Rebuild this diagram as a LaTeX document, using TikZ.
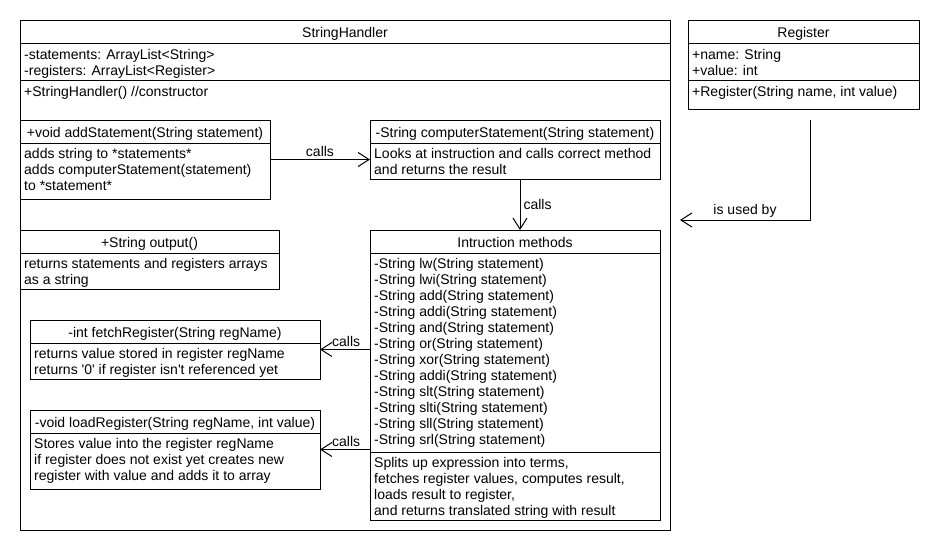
\documentclass[tikz,border=0pt]{standalone}
\usepackage{fontspec}
\setmainfont{Liberation Sans}[Ligatures=TeXOff]
\usetikzlibrary{arrows.meta}
\begin{document}
\begin{tikzpicture}[x=1pt,y=-1pt,
 every node/.style={font=\fontsize{14}{16}\selectfont, text=black},
 clsbox/.style={draw=black, line width=1pt, anchor=north west, inner sep=0pt, outer sep=0pt},
 clstitle/.style={anchor=base, inner sep=0pt},
 clsbody/.style={anchor=north west, inner sep=0pt, align=left},
 clsline/.style={anchor=base west, inner sep=0pt},
 clssep/.style={draw=black, line width=1pt},
 callarrow/.style={draw=black, line width=1pt, -{Straight Barb[length=11pt,width=14pt]}},
 calllbl/.style={inner sep=2pt}
]
\fill[white] (0,0) rectangle (940,550);
\useasboundingbox (0,0) rectangle (940,550);

% StringHandler
\node[clsbox, minimum width=650pt, minimum height=510pt] (sh) at (20,20) {};
\draw[clssep] (20,43) -- (670,43);
\draw[clssep] (20,80) -- (670,80);
\node[clstitle] (shT) at (345,37) {StringHandler};
\node[clsbody] (shA) at (24,47.8) {\strut -statements: ArrayList<String>\\-registers: ArrayList<Register>};
\node[clsline] (shM) at (24,96) {+StringHandler() //constructor};

% Register
\node[clsbox, minimum width=231pt, minimum height=89pt] (reg) at (688,20) {};
\draw[clssep] (688,43) -- (919,43);
\draw[clssep] (688,80) -- (919,80);
\node[clstitle] (regT) at (803.5,37) {Register};
\node[clsbody] (regA) at (692,47.8) {\strut +name: String\\+value: int};
\node[clsline] (regM) at (692,96) {+Register(String name, int value)};

% addStatement
\node[clsbox, minimum width=250pt, minimum height=79pt] (add) at (20,120) {};
\draw[clssep] (20,143) -- (270,143);
\node[clstitle] (addT) at (145,137) {+void addStatement(String statement)};
\node[clsbody] (addB) at (24,146.8) {\strut adds string to *statements*\\adds computerStatement(statement)\\to *statement*};

% computerStatement
\node[clsbox, minimum width=290pt, minimum height=59pt] (comp) at (370,120) {};
\draw[clssep] (370,143) -- (660,143);
\node[clstitle] (compT) at (515,137) {-String computerStatement(String statement)};
\node[clsbody] (compB) at (374,146.8) {\strut Looks at instruction and calls correct method\\and returns the result};

% output
\node[clsbox, minimum width=259pt, minimum height=59pt] (out) at (20,230) {};
\draw[clssep] (20,253) -- (279,253);
\node[clstitle] (outT) at (149.5,247) {+String output()};
\node[clsbody] (outB) at (24,256.8) {\strut returns statements and registers arrays\\as a string};

% Intruction methods
\node[clsbox, minimum width=290pt, minimum height=290pt] (meth) at (370,230) {};
\draw[clssep] (370,253) -- (660,253);
\draw[clssep] (370,452) -- (660,452);
\node[clstitle] (methT) at (515,247) {Intruction methods};
\node[clsbody] (methB) at (374,256.8) {\strut -String lw(String statement)\\-String lwi(String statement)\\-String add(String statement)\\-String addi(String statement)\\-String and(String statement)\\-String or(String statement)\\-String xor(String statement)\\-String addi(String statement)\\-String slt(String statement)\\-String slti(String statement)\\-String sll(String statement)\\-String srl(String statement)};
\node[clsbody] (methD) at (374,455.8) {\strut Splits up expression into terms,\\fetches register values, computes result,\\loads result to register,\\and returns translated string with result};

% fetchRegister
\node[clsbox, minimum width=290pt, minimum height=59pt] (fetch) at (30,320) {};
\draw[clssep] (30,343) -- (320,343);
\node[clstitle] (fetchT) at (175,337) {-int fetchRegister(String regName)};
\node[clsbody] (fetchB) at (34,346.8) {\strut returns value stored in register regName\\returns '0' if register isn't referenced yet};

% loadRegister
\node[clsbox, minimum width=290pt, minimum height=79pt] (load) at (30,410) {};
\draw[clssep] (30,433) -- (320,433);
\node[clstitle] (loadT) at (175,427) {-void loadRegister(String regName, int value)};
\node[clsbody] (loadB) at (34,436.8) {\strut Stores value into the register regName\\if register does not exist yet creates new\\register with value and adds it to array};

% connectors
\draw[callarrow] (add.east) -- (add.east -| comp.west) node[midway, above, calllbl] (c1) {calls};
\draw[callarrow] ([xshift=5pt]comp.south) -- ([xshift=5pt]meth.north) node[midway, right, inner sep=3pt] (c2) {calls};
\draw[callarrow] (fetch.east -| meth.west) -- (fetch.east);
\node[clsline] (c3) at ([xshift=12pt, yshift=3.5pt]fetch.east) {calls};
\draw[callarrow] (load.east -| meth.west) -- (load.east);
\node[clsline] (c4) at ([xshift=12pt, yshift=3.5pt]load.east) {calls};

\coordinate (u1) at (810,120);
\coordinate (u2) at (680,220);
\draw[callarrow] (u1) |- (u2);
\node[calllbl, anchor=south] (c5) at (745,220) {is used by};
\end{tikzpicture}
\end{document}
